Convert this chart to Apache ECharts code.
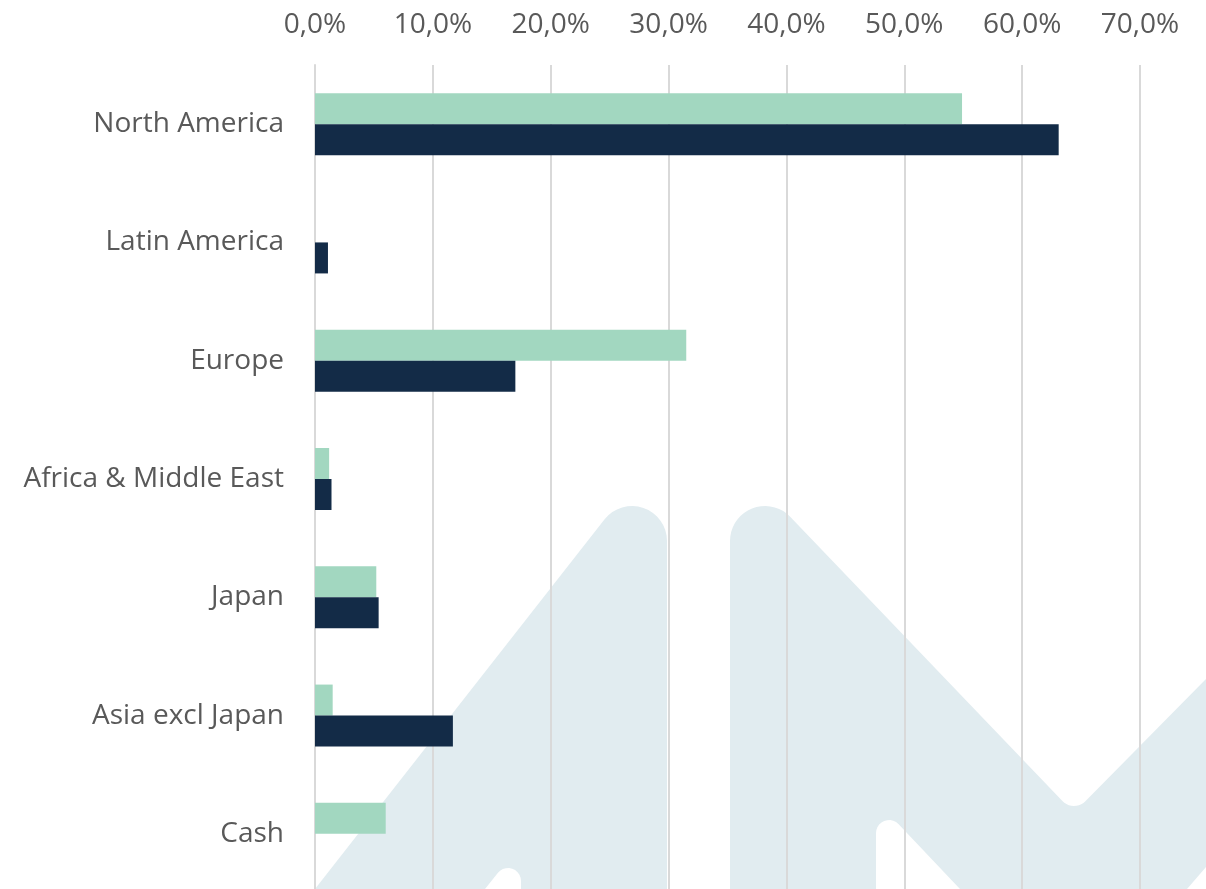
<!DOCTYPE html>
<html>
<head>
<meta charset="utf-8">
<script src="https://cdn.jsdelivr.net/npm/echarts@6/dist/echarts.min.js"></script>
<style>
html, body { margin: 0; padding: 0; background: #fff; }
#chart { width: 1206px; height: 889px; }
</style>
</head>
<body>
<div id="chart"></div>
<script>
// regions, top to bottom
var regions = ['North America', 'Latin America', 'Europe', 'Africa & Middle East', 'Japan', 'Asia excl Japan', 'Cash'];
// light green series (%)
var seriesA = [54.9, 0, 31.5, 1.2, 5.2, 1.5, 6.0];
// dark navy series (%)
var seriesB = [63.1, 1.1, 17.0, 1.4, 5.4, 11.7, 0];
var xTicks = [0, 10, 20, 30, 40, 50, 60, 70];

var chart = echarts.init(document.getElementById('chart'));

// background logo shape, points of a circle arc
function arc(cx, cy, r, a0, a1, n) {
	var pts = [];
	for (var i = 0; i <= n; i++) {
		var a = (a0 + (a1 - a0) * i / n) * Math.PI / 180;
		pts.push([cx + r * Math.cos(a), cy + r * Math.sin(a)]);
	}
	return pts;
}

var leftShape = [[315, 889]]
	.concat(arc(632, 541, 35, -142, 0, 16))
	.concat([[667, 889], [521, 889]])
	.concat(arc(508, 881, 13, 0, -142, 10))
	.concat([[485, 889]]);

var rightShape = [[730, 889]]
	.concat(arc(765, 541, 35, 180, 316.5, 18))
	.concat(arc(1074, 790, 16, 136.5, 44.6, 10))
	.concat([[1206, 679], [1206, 867], [1187, 889], [960, 889]])
	.concat(arc(889, 833, 13, -43.5, -180, 10))
	.concat([[876, 889]]);

var font = '"Open Sans", sans-serif';

var option = {
	animation: false,
	backgroundColor: '#ffffff',
	graphic: [
		{ type: 'polygon', z: -10, silent: true, shape: { points: leftShape }, style: { fill: '#e1ecf0' } },
		{ type: 'polygon', z: -10, silent: true, shape: { points: rightShape }, style: { fill: '#e1ecf0' } }
	],
	grid: { left: 315, right: 66, top: 65, height: 828, containLabel: false, outerBoundsMode: 'none' },
	xAxis: {
		type: 'value',
		position: 'top',
		min: xTicks[0],
		max: xTicks[xTicks.length - 1],
		interval: 10,
		axisLine: { show: false },
		axisTick: { show: false },
		splitLine: { show: true, lineStyle: { color: '#d9d9d9', width: 2 } },
		axisLabel: {
			margin: 26,
			color: '#595959',
			fontFamily: font,
			fontSize: 28,
			formatter: function (v) { return v.toFixed(1).replace('.', ',') + '%'; }
		}
	},
	yAxis: {
		type: 'category',
		data: regions,
		inverse: true,
		axisLine: { show: true, lineStyle: { color: '#d9d9d9', width: 2 } },
		axisTick: { show: false },
		axisLabel: { margin: 31, color: '#595959', fontFamily: font, fontSize: 28 }
	},
	series: [
		{
			type: 'bar',
			data: seriesA,
			barWidth: 31,
			barGap: '0%',
			itemStyle: { color: '#a2d7c0' }
		},
		{
			type: 'bar',
			data: seriesB,
			barWidth: 31,
			barGap: '0%',
			itemStyle: { color: '#132b47' }
		}
	]
};

chart.setOption(option);
</script>
</body>
</html>
